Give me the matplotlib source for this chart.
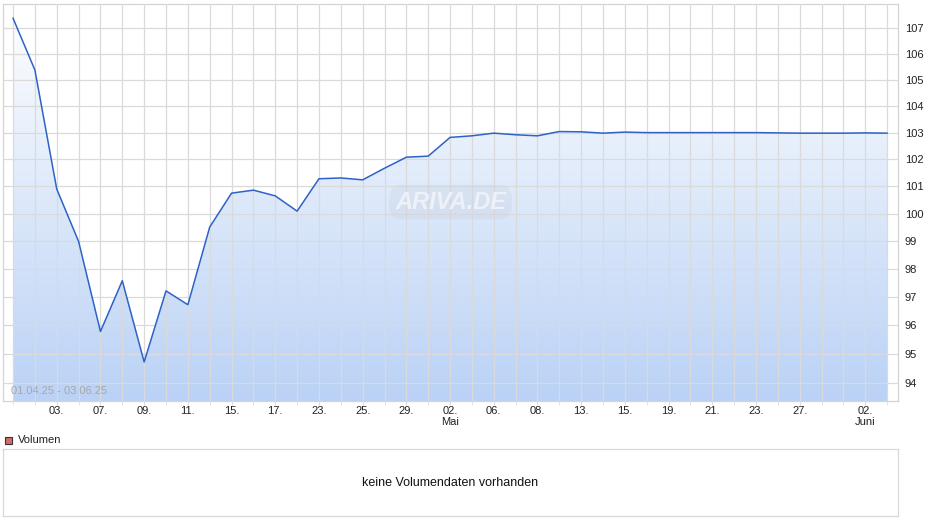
import numpy as np
import matplotlib
matplotlib.use("Agg")
from matplotlib import pyplot as plt
from matplotlib.patches import Rectangle
from matplotlib.colors import LinearSegmentedColormap
from matplotlib.ticker import FixedLocator, NullLocator, FixedFormatter

plt.rcParams["font.family"] = ["Liberation Sans", "DejaVu Sans"]

# trading days shown in the chart
dates = ["01.04", "02.04", "03.04", "04.04", "07.04", "08.04", "09.04", "10.04",
         "11.04", "14.04", "15.04", "16.04", "17.04", "22.04", "23.04", "24.04",
         "25.04", "28.04", "29.04", "30.04", "02.05", "05.05", "06.05", "07.05",
         "08.05", "09.05", "13.05", "14.05", "15.05", "16.05", "19.05", "20.05",
         "21.05", "22.05", "23.05", "26.05", "27.05", "28.05", "30.05", "02.06",
         "03.06"]
prices = [107.39, 105.38, 100.90, 98.99, 95.79, 97.58, 94.73, 97.22,
          96.73, 99.51, 100.75, 100.86, 100.65, 100.09, 101.28, 101.31,
          101.24, 101.67, 102.08, 102.12, 102.82, 102.88, 102.98, 102.92,
          102.88, 103.04, 103.03, 102.98, 103.02, 103.00, 103.00, 103.00,
          103.00, 103.00, 103.00, 102.99, 102.98, 102.98, 102.98, 102.99,
          102.98]

tick_dates = ["03.04", "07.04", "09.04", "11.04", "15.04", "17.04", "23.04",
              "25.04", "29.04", "02.05", "06.05", "08.05", "13.05", "15.05",
              "19.05", "21.05", "23.05", "27.05", "02.06"]
tick_labels = ["03.", "07.", "09.", "11.", "15.", "17.", "23.", "25.", "29.",
               "02.\nMai", "06.", "08.", "13.", "15.", "19.", "21.", "23.",
               "27.", "02.\nJuni"]
y_ticks = [94, 95, 96, 97, 98, 99, 100, 101, 102, 103, 104, 105, 106, 107]
range_label = "01.04.25 - 03.06.25"

W, H = 940, 526
fig = plt.figure(figsize=(W / 100, H / 100), dpi=100)

def fig_rect(x0, y0, x1, y1):
    return [x0 / W, 1 - y1 / H, (x1 - x0) / W, (y1 - y0) / H]

ax = fig.add_axes(fig_rect(3, 3.5, 898, 401))
x = np.arange(len(dates))
y = np.array(prices)

ax.set_yscale("log")
ymin, ymax = 93.39, 107.97
ax.set_xlim(-0.46, 40.5)
ax.set_ylim(ymin, ymax)

# gradient fill below the line
grad = LinearSegmentedColormap.from_list("g", ["#bad2f6", "#ffffff"])
img = ax.imshow(np.linspace(0, 1, 256).reshape(-1, 1), cmap=grad, aspect="auto",
                extent=[0, 1, 0, 1], transform=ax.transAxes, origin="lower",
                zorder=1)
poly = ax.fill_between(x, y, ymin, facecolor="none", edgecolor="none")
img.set_clip_path(poly.get_paths()[0], transform=ax.transData)

ax.plot(x, y, color="#2e62c6", lw=1.1, zorder=3)

ax.yaxis.set_major_locator(FixedLocator(y_ticks))
ax.yaxis.set_major_formatter(FixedFormatter([str(t) for t in y_ticks]))
ax.yaxis.set_minor_locator(NullLocator())
ax.yaxis.tick_right()
ax.tick_params(axis="y", length=0, pad=5, labelsize=8, labelcolor="#222222")

ax.set_xticks(x, minor=True)
tick_idx = [dates.index(d) for d in tick_dates]
ax.set_xticks(tick_idx)
ax.set_xticklabels(tick_labels, fontsize=8, color="#222222", linespacing=1.2,
                   va="top")
ax.tick_params(axis="x", which="both", length=3, color="#dddddd", pad=0.5)

ax.grid(True, which="minor", axis="x", color="#dadada", lw=0.9, zorder=2)
ax.grid(True, which="major", axis="x", color="#dadada", lw=0.9, zorder=2)
ax.grid(True, which="major", axis="y", color="#dadada", lw=0.9, zorder=2)
ax.set_axisbelow(False)
for s in ax.spines.values():
    s.set_color("#d4d4d4")
    s.set_linewidth(0.9)

ax.text(8 / 895, 0.012, range_label, transform=ax.transAxes, fontsize=8,
        color="#a8a8a8", ha="left", va="bottom", zorder=4)

ax.text(0.5, 0.5, "ARIVA.DE", transform=ax.transAxes, fontsize=17,
        fontweight="bold", style="italic", color="#f2f5fa", alpha=0.85,
        ha="center", va="center", zorder=4,
        bbox=dict(boxstyle="round,pad=0.25,rounding_size=0.6",
                  facecolor="#c9d3e2", edgecolor="none", alpha=0.35))

# volume legend and empty panel
fig.add_artist(Rectangle((4.5 / W, 1 - 443.5 / H), 7 / W, 7 / H,
                         transform=fig.transFigure, facecolor="#d46b6b",
                         edgecolor="#333333", lw=0.8))
fig.text(18 / W, 1 - 440 / H, "Volumen", fontsize=8, color="#222222",
         ha="left", va="center")

vax = fig.add_axes(fig_rect(3, 449, 898, 516))
vax.set_xticks([])
vax.set_yticks([])
for s in vax.spines.values():
    s.set_color("#d8d8d8")
    s.set_linewidth(0.9)
vax.text(0.5, 0.5, "keine Volumendaten vorhanden", transform=vax.transAxes,
         fontsize=9, color="#111111", ha="center", va="center")

fig.savefig("out.png", dpi=100)
